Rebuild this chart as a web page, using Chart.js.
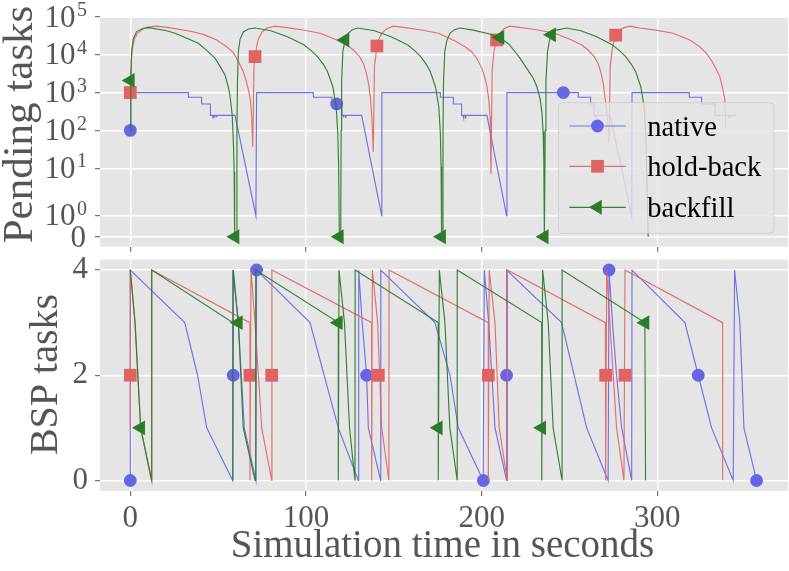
<!DOCTYPE html>
<html><head><meta charset="utf-8">
<script src="https://cdn.jsdelivr.net/npm/chart.js@4.4.1/dist/chart.umd.min.js"></script>
<style>
html,body{margin:0;padding:0;background:#fff;}
#wrap{position:relative;width:789px;height:571px;overflow:hidden;}
canvas{position:absolute;left:0;top:0;}
</style></head><body>
<div id="wrap"><canvas id="cTop" width="789" height="571" style="width:789px;height:571px"></canvas><canvas id="cBot" width="789" height="571" style="width:789px;height:571px"></canvas></div>
<script>
// ---------------- data ----------------
const seriesNames = ['native', 'hold-back', 'backfill'];
const timeTicks = [0, 100, 200, 300];
const pendingTicks = [0, 1, 10, 100, 1000, 10000, 100000];
const bspTicks = [0, 2, 4];
const xTitle = 'Simulation time in seconds';
const yTitleTop = 'Pending tasks';
const yTitleBot = 'BSP tasks';

const nativePending = [
[0,100],[0.3,1000],[33.1,1000],[33.1,750],[40.6,750],[40.6,500],[45.6,500],[45.6,250],[46.8,250],[47.1,215],[47.3,250],[47.9,250],[48.1,220],[48.3,250],[49,250],[49.2,225],[49.4,250],[59.6,250],[71.5,1],[71.9,1000],
[104.2,1000],[104.2,750],[114.8,750],[114.8,500],[120.4,500],[120.4,250],[121.3,250],[121.5,220],[121.7,250],[122.4,250],[122.6,215],[122.8,250],[131.7,250],[143.1,1],[143.2,1000],
[176.5,1000],[176.5,750],[183.9,750],[183.9,500],[188.6,500],[188.6,250],[189.4,250],[189.6,220],[189.8,250],[190.5,250],[190.7,215],[190.9,250],[203,250],[214.2,1],[214.4,1000],
[255,1000],[255,750],[262,750],[262,500],[264,500],[264,250],[265,250],[265.2,220],[265.4,250],[273.1,250],[285.4,1],[285.6,1000],
[318.2,1000],[318.2,750],[325.2,750],[325.2,500],[332.8,500],[332.8,250],[340.5,250],[340.7,215],[340.9,250],[341.6,250],[341.8,225],[342,250],[345.1,250]
];
const holdPending = [
[0,1000],[0.6,8000],[1.5,18000],[2.5,27000],[4,36000],[6,44000],[9.3,53000],[15,57000],[22,52000],[35,41000],[42,34000],[49.2,24600],[55,16000],[58.6,11500],[62,6000],[64.3,3600],[66,2000],[67.2,1200],[68.3,650],[69.1,229],[69.7,37],
[70.4,4800],[71,8900],[72,17000],[72.9,26000],[75,40000],[77.6,50000],[82.4,57000],[89,52000],[98.4,45000],[108.1,37000],[117.6,24600],[123.4,18000],[127,13300],[130.4,9000],[132.7,5900],[134.4,3200],[135.6,1760],[136.7,700],[137.5,229],[138.3,27],
[139,5000],[140.4,17000],[141.5,26000],[143,36000],[146,49000],[149.7,57000],[156.4,52000],[165.7,45000],[175.4,37000],[184.9,23000],[190.7,16000],[194.3,12000],[197.2,8100],[200,4500],[201.9,2400],[202.9,1500],[204,700],[204.8,229],[205.3,7],
[206,4000],[207,12000],[208.5,24600],[210,35000],[212.5,48000],[216,57000],[222.7,52000],[232,45000],[241.7,37000],[251.2,24600],[257,18000],[260.6,13300],[264,9000],[266.3,5900],[268,3200],[269.2,1760],[270.3,700],[271.6,220],[272.5,46],
[273.2,5000],[274.5,16000],[276.3,33000],[278.5,44000],[281,52000],[284.5,57000],[290,51000],[300,44000],[309,37000],[318.5,24600],[324,16500],[328,10900],[331,6800],[333.5,4200],[335.6,2600],[337.2,1300],[338.5,630],[338.9,124]
];
const backPending = [
[0,100],[0.3,2100],[0.8,13300],[1.8,27000],[3.6,41000],[7.4,50000],[10.5,51900],[20.7,43000],[25.4,37000],[30.2,30000],[38.7,20000],[44,12500],[48.2,8100],[51,5000],[53.9,2900],[55.8,1400],[56.7,850],[58,260],[58.8,33],[59.1,8],[59.4,0],[59.6,0],
[60.5,0],[60.7,100],[61,2000],[61.5,12000],[62.5,26000],[64.3,40000],[67.2,48000],[71,51000],[80,43000],[89.5,30000],[99,18000],[103.3,12500],[106.5,8900],[110,5500],[112.3,3550],[115.3,1430],[117.2,423],[118.1,84],[118.6,11],[119,0],
[119.8,0],[120,100],[120.3,2000],[121,12000],[122.2,24600],[124,37000],[126.5,46000],[129.5,51000],[139,43000],[148.5,30000],[158,18000],[162.2,12500],[165.3,8900],[168.6,5500],[170.8,3550],[173.7,1430],[175.6,423],[176.5,84],[176.9,11],[177.2,0],
[177.8,0],[178,100],[178.3,2000],[179,12000],[180.2,24000],[182,37000],[184.5,46000],[187.6,51000],[195.2,44800],[204,36000],[210.4,28500],[215.5,19000],[219,12000],[221.8,8100],[225.5,4500],[229.4,2400],[231.5,1400],[233.2,710],[234.3,300],[235,94],[235.4,15],[235.7,0],
[236,0],[236.2,100],[236.6,2000],[237.5,12000],[238.6,24000],[239.8,33500],[242,44000],[248.4,51000],[256.5,43000],[265.5,30000],[274.5,18000],[278.8,12500],[282,8900],[285.3,5500],[287.7,3550],[290.6,1430],[292.5,423],[293.4,84],[293.9,11],[294.8,0]
];
const nativePendingMarks = [[0,100],[117.5,500],[246.5,1000]];
const holdPendingMarks = [[0,1000],[71,8900],[140.4,17000],[208.5,24600],[276.3,33000]];
const backPendingMarks = [[0,2100],[59.6,0],[119,0],[122.2,24600],[177.2,0],[210.4,28500],[235.6,0],[239.8,33500]];

const nativeBsp = [[0,0],[0,4],[31,3],[38.3,2],[43.5,1],[58.3,0],[58.6,2],[58.7,4],[61.5,3],[64.9,1],[71.5,0],[71.9,4],[102.3,3],[118.4,1],[129.8,0],[130,4],[132,3],[134.5,2],[135.5,1],[142.5,0],[142.6,4],[173.4,3],[182,2],[186.7,1],[200.9,0],[201.5,4],[204,3],[207.6,1],[214.2,0],[214.2,2],[214.3,4],[245.5,3],[259.8,1],[272,0],[272.5,4],[274.5,3],[276.8,2],[279.7,1],[285.4,0],[285.6,4],[315.7,3],[323.3,2],[330.9,1],[343.2,0],[344,4],[347,3],[349.3,1],[356.5,0]];
const holdBsp = [[0,1],[0,4],[2.7,3],[5.9,1],[12,0],[12.2,4],[68.1,3],[68.1,0],[68.7,4],[71,3],[74.8,1],[80.5,0],[80.6,4],[137.4,3],[137.4,0],[137.8,4],[140.8,3],[143.1,1],[147.2,0],[147.3,4],[203.8,3],[203.8,0],[204.3,4],[207.6,3],[210,1],[214.6,0],[214.7,4],[270.4,3],[270.6,0],[271.2,4],[273,3],[276.8,1],[281,0],[281.6,4],[337.2,3],[337.2,0]];
const backBsp = [[0,4],[2.7,3],[5.9,1],[12.2,0],[12.2,4],[58.3,3],[58.3,0],[58.4,4],[61.5,3],[64.3,1],[71,0],[71.4,4],[118.4,3],[118.4,0],[118.8,4],[121.9,3],[124.8,1],[127.9,0],[128,4],[175.3,3],[175.3,0],[175.9,4],[179.1,3],[181.9,1],[186.1,0],[186.1,4],[234.2,3],[234.2,0],[234.7,4],[237.9,3],[240.7,1],[245.8,0],[245.8,4],[292.9,3],[293.3,0]];
const nativeBspMarks = [[0,0],[58.6,2],[71.9,4],[134.5,2],[201,0],[214.2,2],[272.5,4],[323.3,2],[356.5,0]];
const holdBspMarks = [[0,2],[68.1,2],[80.5,2],[141.2,2],[203.8,2],[270.6,2],[281.6,2]];
const backBspMarks = [[5.9,1],[61.5,3],[118.4,3],[175.3,1],[234.2,1],[293,3]];

// ---------------- style ----------------
const COLORS = ['#6565e5', '#e06363', '#2b7b2b'];
const LINE_COLORS = ['rgba(101,101,229,0.9)', 'rgba(224,99,99,0.9)', 'rgba(43,123,43,0.95)'];
const STYLES = [['circle', 6.4, 0], ['rect', 9, 0], ['triangle', 8.6, -90]];
const LABEL_COLOR = '#555555';
const FONT = '"Liberation Serif", "Times New Roman", serif';
const X_MIN = -17.25, X_MAX = 374.39;

// ---------------- symlog scale (linthresh 2, linscale 1) ----------------
const LT = 2, LS = 1 / 0.9;
function symFwd(v){ const a = Math.abs(v); return a <= LT ? v * LS / LT : Math.sign(v) * (LS + Math.log10(a / LT)); }
function symInv(u){ const a = Math.abs(u); return a <= LS ? u * LT / LS : Math.sign(u) * LT * Math.pow(10, a - LS); }
class SymLogScale extends Chart.Scale {
  determineDataLimits(){ this.min = this.options.min; this.max = this.options.max; }
  buildTicks(){ return pendingTicks.map(v => ({value: v})); }
  getLabelForValue(v){ return String(v); }
  configure(){ super.configure(); this._u0 = symFwd(this.min); this._u1 = symFwd(this.max); }
  getPixelForValue(v){ return this.getPixelForDecimal((symFwd(v) - this._u0) / (this._u1 - this._u0)); }
  getValueForPixel(p){ return symInv(this._u0 + this.getDecimalForPixel(p) * (this._u1 - this._u0)); }
}
SymLogScale.id = 'symlog';
SymLogScale.defaults = {};
Chart.register(SymLogScale);

const toXY = pts => pts.map(p => ({x: p[0], y: p[1]}));
function lineDs(pts, i, order){
  return {data: toXY(pts), showLine: true, borderColor: LINE_COLORS[i], borderWidth: 1.15,
          pointRadius: 0, pointHoverRadius: 0, fill: false, tension: 0, order};
}
function markDs(pts, i, order){
  return {data: toXY(pts), showLine: false, pointStyle: STYLES[i][0], pointRadius: STYLES[i][1],
          pointHoverRadius: STYLES[i][1], pointRotation: STYLES[i][2], backgroundColor: COLORS[i],
          borderColor: COLORS[i], borderWidth: 0, clip: false, order};
}

const bgPlugin = {
  id: 'bg',
  beforeDraw(chart){
    const {ctx, chartArea: a} = chart;
    ctx.save(); ctx.fillStyle = '#e5e5e5';
    ctx.fillRect(a.left, a.top, a.right - a.left, a.bottom - a.top);
    ctx.restore();
  }
};

function drawMarker(ctx, i, x, y){
  const [style, r] = STYLES[i];
  ctx.fillStyle = COLORS[i];
  ctx.beginPath();
  if (style === 'circle') { ctx.arc(x, y, r, 0, Math.PI * 2); }
  else if (style === 'rect') { const s = r * Math.SQRT1_2; ctx.rect(x - s, y - s, 2 * s, 2 * s); }
  else {
    ctx.moveTo(x - r, y);
    ctx.lineTo(x + r * 0.5, y - r * Math.sqrt(3) / 2);
    ctx.lineTo(x + r * 0.5, y + r * Math.sqrt(3) / 2);
    ctx.closePath();
  }
  ctx.fill();
}

function drawLegend(ctx){
  const L = 558.5, T = 102.7, R = 774, B = 233.3, rad = 4;
  ctx.save();
  ctx.beginPath();
  ctx.moveTo(L + rad, T); ctx.lineTo(R - rad, T); ctx.quadraticCurveTo(R, T, R, T + rad);
  ctx.lineTo(R, B - rad); ctx.quadraticCurveTo(R, B, R - rad, B);
  ctx.lineTo(L + rad, B); ctx.quadraticCurveTo(L, B, L, B - rad);
  ctx.lineTo(L, T + rad); ctx.quadraticCurveTo(L, T, L + rad, T);
  ctx.closePath();
  ctx.fillStyle = 'rgba(229,229,229,0.8)'; ctx.fill();
  ctx.strokeStyle = 'rgba(204,204,204,0.8)'; ctx.lineWidth = 1; ctx.stroke();
  const rows = [126, 166.3, 207.3];
  rows.forEach((ry, i) => {
    ctx.strokeStyle = LINE_COLORS[i]; ctx.lineWidth = 1.15;
    ctx.beginPath(); ctx.moveTo(569.3, ry); ctx.lineTo(625.7, ry); ctx.stroke();
    drawMarker(ctx, i, 597.5, ry);
    ctx.fillStyle = '#000'; ctx.font = '28.5px ' + FONT; ctx.textAlign = 'left'; ctx.textBaseline = 'alphabetic';
    ctx.fillText(seriesNames[i], 647.3, ry + 9.5);
  });
  ctx.restore();
}

const topText = {
  id: 'topText',
  afterDraw(chart){
    const ctx = chart.ctx, ys = chart.scales.y;
    ctx.save();
    ctx.fillStyle = LABEL_COLOR; ctx.textBaseline = 'middle'; ctx.textAlign = 'right';
    ys.ticks.forEach(t => {
      const py = ys.getPixelForValue(t.value);
      if (t.value === 0) { ctx.font = '31px ' + FONT; ctx.fillText('0', 86, py + 2); return; }
      const e = String(Math.round(Math.log10(t.value)));
      ctx.font = '20px ' + FONT; const ew = ctx.measureText(e).width;
      ctx.fillText(e, 87, py - 6);
      ctx.font = '31px ' + FONT; ctx.fillText('10', 87 - ew - 1.5, py + 1.5);
    });
    ctx.translate(32, 124.5); ctx.rotate(-Math.PI / 2);
    ctx.textAlign = 'center'; ctx.textBaseline = 'alphabetic'; ctx.font = '43px ' + FONT;
    ctx.fillText(yTitleTop, 0, 0);
    ctx.restore();
    drawLegend(ctx);
  }
};
const botText = {
  id: 'botText',
  afterDraw(chart){
    const ctx = chart.ctx;
    ctx.save();
    ctx.fillStyle = LABEL_COLOR; ctx.textAlign = 'center'; ctx.textBaseline = 'alphabetic';
    ctx.font = '39px ' + FONT;
    ctx.fillText(xTitle, 442.5, 556.5);
    ctx.translate(56.5, 374.5); ctx.rotate(-Math.PI / 2);
    ctx.font = '40px ' + FONT;
    ctx.fillText(yTitleBot, 0, 0);
    ctx.restore();
  }
};

const gridOpts = {color: '#ffffff', lineWidth: 1.4, tickLength: 5, tickColor: LABEL_COLOR, tickWidth: 1, drawTicks: true};

function xScale(showLabels, height){
  return {
    type: 'linear', min: X_MIN, max: X_MAX,
    afterBuildTicks: s => { s.ticks = timeTicks.map(v => ({value: v})); },
    afterFit: s => { s.height = height; s.paddingLeft = 0; s.paddingRight = 0; },
    ticks: {display: showLabels, font: {family: FONT, size: 31}, color: LABEL_COLOR, padding: 4, maxRotation: 0, autoSkip: false},
    grid: gridOpts, border: {display: false}
  };
}

new Chart(document.getElementById('cTop'), {
  type: 'scatter',
  data: {datasets: [
    markDs(backPendingMarks, 2, 0), lineDs(backPending, 2, 1),
    markDs(holdPendingMarks, 1, 2), lineDs(holdPending, 1, 3),
    markDs(nativePendingMarks, 0, 4), lineDs(nativePending, 0, 5)
  ]},
  options: {
    responsive: false, animation: false, events: [],
    layout: {autoPadding: false, padding: {left: 0, right: 1, top: 17.7, bottom: 571 - 246.7}},
    plugins: {legend: {display: false}, tooltip: {enabled: false}},
    scales: {
      x: xScale(false, 0),
      y: {type: 'symlog', min: symInv(-0.264), max: symInv(5.789),
          afterFit: s => { s.width = 100; s.paddingTop = 0; s.paddingBottom = 0; },
          ticks: {display: false}, grid: gridOpts, border: {display: false}}
    }
  },
  plugins: [bgPlugin, topText]
});

new Chart(document.getElementById('cBot'), {
  type: 'scatter',
  data: {datasets: [
    markDs(backBspMarks, 2, 0), lineDs(backBsp, 2, 1),
    markDs(holdBspMarks, 1, 2), lineDs(holdBsp, 1, 3),
    markDs(nativeBspMarks, 0, 4), lineDs(nativeBsp, 0, 5)
  ]},
  options: {
    responsive: false, animation: false, events: [],
    layout: {autoPadding: false, padding: {left: 0, right: 1, top: 259.5, bottom: 0}},
    plugins: {legend: {display: false}, tooltip: {enabled: false}},
    scales: {
      x: xScale(true, 80),
      y: {type: 'linear', min: -0.2, max: 4.2,
          afterBuildTicks: s => { s.ticks = bspTicks.map(v => ({value: v})); },
          afterFit: s => { s.width = 100; },
          ticks: {font: {family: FONT, size: 31}, color: LABEL_COLOR, padding: 7},
          grid: gridOpts, border: {display: false}}
    }
  },
  plugins: [bgPlugin, botText]
});
</script>
</body></html>
